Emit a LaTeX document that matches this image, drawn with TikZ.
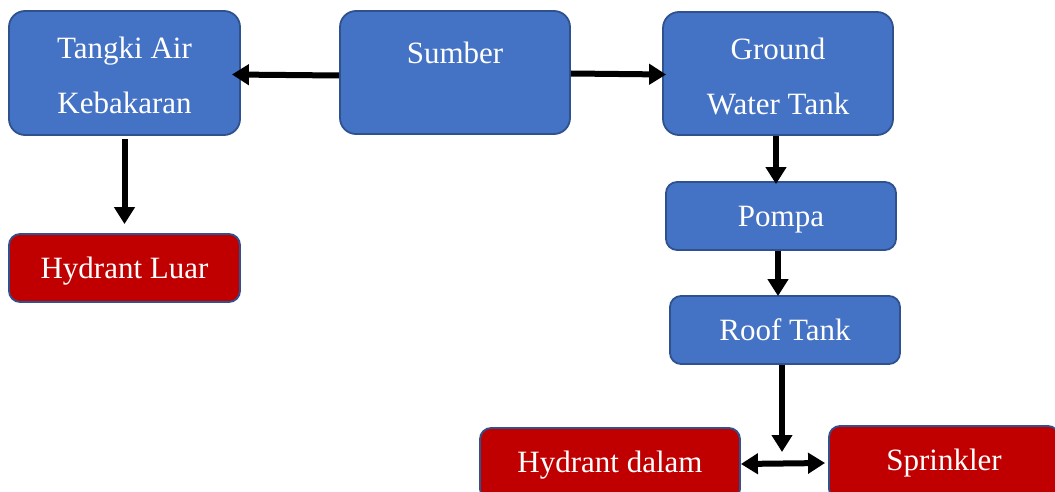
\documentclass[tikz,border=0pt]{standalone}
\usepackage{fontspec}
\setmainfont{Liberation Serif}
\usetikzlibrary{arrows.meta}
\definecolor{boxblue}{HTML}{4472C4}
\definecolor{boxred}{HTML}{C00000}
\definecolor{edgeblue}{HTML}{2F528F}
\begin{document}
\begin{tikzpicture}[x=1pt,y=-1pt,
  base/.style={draw=edgeblue, line width=1.8pt, text=white, align=center,
    font=\fontsize{31}{55}\selectfont, inner sep=0pt, text height=20pt, text depth=0pt},
  tallbox/.style={base, fill=boxblue, rounded corners=16pt},
  shortbox/.style={base, fill=boxblue, rounded corners=11pt},
  redbox/.style={base, fill=boxred, rounded corners=11pt},
  lbl/.style={text=white, font=\fontsize{31}{55}\selectfont, inner sep=0pt, text height=20pt, text depth=0pt},
  lbltwo/.style={text=white, font=\fontsize{31}{55}\selectfont, inner sep=0pt, align=center},
  tip/.style={Triangle[length=17pt,width=20pt]},
  arr/.style={line width=6pt, -{Triangle[length=17pt,width=20pt]}},
  dbl/.style={line width=6pt, {Triangle[length=17pt,width=20pt]}-{Triangle[length=17pt,width=20pt]}}
]
\useasboundingbox (0,0) rectangle (1055,492);
\clip (0,0) rectangle (1055,492);
% boxes
\node[tallbox, minimum width=231pt, minimum height=124pt] (tangki) at (124.5,73) {};
\node[lbltwo] (tangkilbl) at (124.5,75.5) {Tangki Air\\Kebakaran};
\node[tallbox, minimum width=230pt, minimum height=123pt] (sumber) at (455,72.5) {};
\node[lbl] (sumberlbl) at (455,54) {Sumber};
\node[tallbox, minimum width=230pt, minimum height=123pt] (gwt) at (778,73.5) {};
\node[lbltwo] (gwtlbl) at (778,76) {Ground\\Water Tank};
\node[shortbox, minimum width=230pt, minimum height=68pt] (pompa) at (781,216) {Pompa};
\node[shortbox, minimum width=230pt, minimum height=68pt] (roof) at (785,330) {Roof Tank};
\node[redbox, minimum width=231pt, minimum height=68pt] (hl) at (124.5,268) {Hydrant Luar};
\node[redbox, minimum width=260pt, minimum height=72pt] (hd) at (610,464) {};
\node[lbl] (hdlbl) at (610,462) {Hydrant dalam};
\node[redbox, minimum width=230pt, minimum height=74pt] (spr) at (944,463) {};
\node[lbl] (sprlbl) at (944,460) {Sprinkler};
\coordinate (j) at (782,452);
% connectors
\draw[arr] ([yshift=-3pt]sumber.west) -- ([xshift=-9pt,yshift=-1.5pt]tangki.east);
\draw[arr] ([yshift=-1pt]sumber.east) -- ([xshift=4pt,yshift=-1pt]gwt.west);
\draw[arr] ([yshift=-3pt]tangki.south) -- ([yshift=9pt]hl.north);
\draw[arr] ([xshift=-2pt]gwt.south) -- ([xshift=-2pt,yshift=-3pt]gwt.south |- pompa.north);
\draw[arr] ([xshift=-3pt]pompa.south) -- ([xshift=-3pt,yshift=-1pt]pompa.south |- roof.north);
\draw[arr] ([xshift=-3pt]roof.south) -- (j);
\draw[dbl] (hd.east) -- ([xshift=-3pt]spr.west);
\end{tikzpicture}
\end{document}
